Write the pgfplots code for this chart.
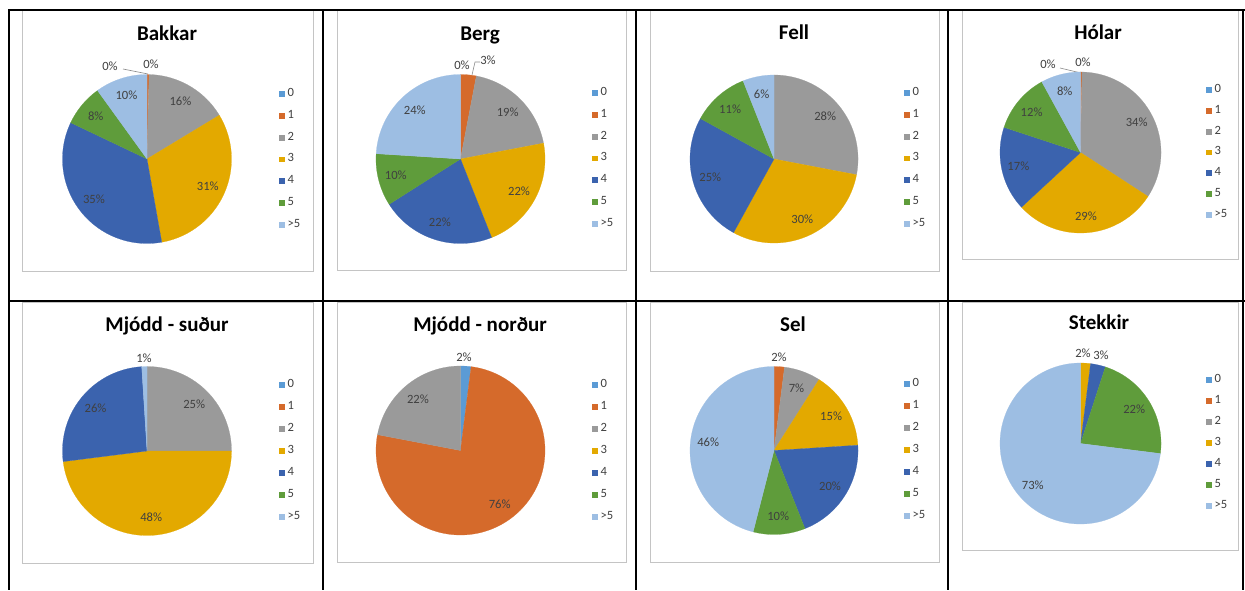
\documentclass[border=0pt]{standalone}
\usepackage{pgfplots}
\pgfplotsset{compat=1.18}
\usepackage{pgfplotstable}
\usepackage{fontspec}
\setmainfont{Carlito}

\definecolor{c0}{HTML}{5B9BD5}
\definecolor{c1}{HTML}{D56A2B}
\definecolor{c2}{HTML}{9A9A9A}
\definecolor{c3}{HTML}{E3A900}
\definecolor{c4}{HTML}{3B63AE}
\definecolor{c5}{HTML}{5F9C3B}
\definecolor{c6}{HTML}{9DBEE3}
\definecolor{labc}{HTML}{404040}
\definecolor{framec}{HTML}{C4C4C4}
\definecolor{leadc}{HTML}{8C8C8C}

% share of each household size (0,1,2,3,4,5,>5) in each area, percent
\pgfplotstableread{
cat Bakkar Berg Fell Holar MjoddS MjoddN Sel Stekkir
0   0    0  0  0    0  2  0  0
1   0.4  3  0  0.3  0  76 2  0
2   16   19 28 34   25 22 7  0
3   31   22 30 29   48 0  15 2
4   35   22 25 17   26 0  20 3
5   8    10 11 12   0  0  10 22
6   10   24 6  8    1  0  46 73
}\piedata

\tikzset{plab/.style={font=\fontsize{6.3}{7.5}\selectfont, text=labc, inner sep=0pt}}

\newcommand\pieslices[1]{%
  \xdef\piesum{0}%
  \foreach \r in {0,...,6}{%
    \pgfplotstablegetelem{\r}{#1}\of\piedata
    \pgfmathsetmacro\newsum{\piesum+\pgfplotsretval}%
    \xdef\piesum{\newsum}%
  }%
  \xdef\piecum{0}%
  \foreach \r in {0,...,6}{%
    \pgfplotstablegetelem{\r}{#1}\of\piedata
    \let\v\pgfplotsretval
    \pgfmathsetmacro\pa{\piecum/\piesum*360}%
    \pgfmathsetmacro\newcum{\piecum+\v}%
    \xdef\piecum{\newcum}%
    \pgfmathsetmacro\pb{\piecum/\piesum*360}%
    \ifdim\v pt>0pt
      \pgfmathtruncatemacro\ns{max(2,(\pb-\pa)/2)+2}%
      \edef\tmp{\noexpand\addplot[forget plot, fill=c\r, draw=c\r, line width=0.1pt, domain=\pa:\pb, samples=\ns] ({sin(x)},{cos(x)}) -- (axis cs:0,0) -- cycle;}\tmp
    \fi
    \ifdim\v pt>4.5pt
      \pgfmathsetmacro\pm{(\pa+\pb)/2}%
      \pgfmathsetmacro\lx{0.79*sin(\pm)}%
      \pgfmathsetmacro\ly{0.79*cos(\pm)}%
      \pgfmathtruncatemacro\lab{round(\v)}%
      \edef\tmp{\noexpand\node[plab] at (axis cs:\lx,\ly) {\lab\noexpand\%};}\tmp
    \fi
  }%
}

% #1 column, #2 cx, #3 cy, #4 r, #5 legend square left x, #6 first legend row centre y, #7 row pitch (all px)
\newcommand\piechart[7]{%
  \pgfmathsetmacro\lgx{0.5+(#5-#2)/(2*#4)}%
  \pgfmathsetmacro\lgy{0.5+(#3-(#6-#7/2))/(2*#4)}%
  \pgfmathsetmacro\pieunit{#4*0.5}%
  \pgfmathsetmacro\rowh{#7*0.5}%
  \begin{axis}[at={({#2*0.5pt},{(590-#3)*0.5pt})}, anchor=origin,
    x=\pieunit pt, y=\pieunit pt, xmin=-1, xmax=1, ymin=-1, ymax=1,
    hide axis, clip=false,
    legend image code/.code={\path[##1, draw=none] (0pt,-1.45pt) rectangle (3pt,1.45pt);},
    legend style={at={(\lgx,\lgy)}, anchor=north west, draw=none, fill=none,
      inner sep=0pt, outer sep=0pt, row sep=0pt, column sep=1.3pt,
      font=\fontsize{6.3}{7.5}\selectfont, text=labc,
      nodes={inner sep=0pt, minimum height=\rowh pt, anchor=west}},
    legend cell align=left]
    \addlegendimage{fill=c0}\addlegendentry{0}
    \addlegendimage{fill=c1}\addlegendentry{1}
    \addlegendimage{fill=c2}\addlegendentry{2}
    \addlegendimage{fill=c3}\addlegendentry{3}
    \addlegendimage{fill=c4}\addlegendentry{4}
    \addlegendimage{fill=c5}\addlegendentry{5}
    \addlegendimage{fill=c6}\addlegendentry{>5}
    \pieslices{#1}
  \end{axis}%
}

\begin{document}
\begin{tikzpicture}
\useasboundingbox[fill=white] (0,0) rectangle (622.5pt,295pt);

\begin{scope}[x=0.5pt,y=-0.5pt,yshift=295pt]
  % chart frames
  \draw[framec, line width=0.5pt] (22,11) rectangle (313,271);
  \draw[framec, line width=0.5pt] (337,11) rectangle (626,270);
  \draw[framec, line width=0.5pt] (650,11) rectangle (939,271);
  \draw[framec, line width=0.5pt] (962,11) rectangle (1238,259);
  \draw[framec, line width=0.5pt] (22,302) rectangle (313,563);
  \draw[framec, line width=0.5pt] (337,302) rectangle (626,562);
  \draw[framec, line width=0.5pt] (650,302) rectangle (939,562);
  \draw[framec, line width=0.5pt] (962,302) rectangle (1238,550);
  % table rules
  \draw[black, line width=1pt] (8,10.5) -- (1245,10.5);
  \draw[black, line width=1pt] (8,301) -- (1245,301);
  \foreach \xx in {9,323,636,948,1243} \draw[black, line width=1pt] (\xx,10) -- (\xx,590);
  % titles
  \tikzset{ttl/.style={font=\bfseries\fontsize{10.5}{12}\selectfont, anchor=base, inner sep=0pt}}
  \node[ttl] at (167,40.5) {Bakkar};
  \node[ttl] at (480,40.5) {Berg};
  \node[ttl] at (794,40) {Fell};
  \node[ttl] at (1098,39.5) {Hólar};
  \node[ttl] at (167,331.5) {Mjódd - suður};
  \node[ttl] at (480,331.5) {Mjódd - norður};
  \node[ttl] at (793,331) {Sel};
  \node[ttl] at (1099,329.5) {Stekkir};
  % outside data labels and leader lines
  \node[plab] at (110,66) {0\%};
  \node[plab] at (151,64) {0\%};
  \draw[leadc, line width=0.3pt] (123,69) -- (148,74);
  \node[plab] at (462,65) {0\%};
  \node[plab] at (488,60) {3\%};
  \draw[leadc, line width=0.3pt] (480,62) -- (475,62) -- (472,75);
  \node[plab] at (1048,64) {0\%};
  \node[plab] at (1083,62) {0\%};
  \draw[leadc, line width=0.3pt] (1060,68) -- (1081,73);
  \node[plab] at (144,358) {1\%};
  \node[plab] at (464,357) {2\%};
  \node[plab] at (779,357) {2\%};
  \node[plab] at (1083,353) {2\%};
  \node[plab] at (1101,355) {3\%};
\end{scope}

\piechart{Bakkar}{147}{159}{84.5}{279}{94}{21.8}
\piechart{Berg}{460.5}{159}{84.5}{592}{93}{21.8}
\piechart{Fell}{774}{159}{84}{904}{93}{21.8}
\piechart{Holar}{1080.5}{152.5}{80.5}{1206}{90}{20.8}
\piechart{MjoddS}{147}{451}{84.5}{279}{385}{22}
\piechart{MjoddN}{460.5}{450.5}{84.5}{592}{385}{22}
\piechart{Sel}{774}{450.5}{84}{904}{384}{22}
\piechart{Stekkir}{1080.5}{443.5}{80.5}{1206}{380}{21}
\end{tikzpicture}
\end{document}
